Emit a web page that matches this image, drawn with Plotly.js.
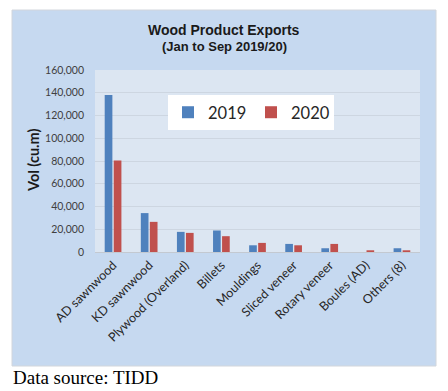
<!DOCTYPE html>
<html>
<head>
<meta charset="utf-8">
<script src="https://cdn.plot.ly/plotly-3.0.1.min.js"></script>
<style>
html,body{margin:0;padding:0;background:#fff;}
#chart{width:448px;height:391px;}
</style>
</head>
<body>
<div id="chart"></div>
<script>
const categories = ["AD sawnwood","KD sawnwood","Plywood (Overland)","Billets","Mouldings","Sliced veneer","Rotary veneer","Boules (AD)","Others (8)"];
const vol2019 = [138000, 34200, 17700, 18900, 5900, 7100, 3300, 0, 3300];
const vol2020 = [80500, 26500, 16800, 13900, 8000, 5900, 7100, 1500, 1500];
const seriesNames = ["2019", "2020"];
const yTickVals = [0,20000,40000,60000,80000,100000,120000,140000,160000];

const W = 448, H = 391;
const L = 95, R = 28, T = 70, B = 139;
const pw = W - L - R, ph = H - T - B;
const px = x => (x - L) / pw;
const py = y => (H - B - y) / ph;

const traces = [
  {type:'bar', name:seriesNames[0], x:categories, y:vol2019, marker:{color:'#4f81bd'}},
  {type:'bar', name:seriesNames[1], x:categories, y:vol2020, marker:{color:'#c0504d'}}
];

const layout = {
  width: W, height: H,
  margin: {l:L, r:R, t:T, b:B, pad:0},
  paper_bgcolor: '#ffffff',
  plot_bgcolor: '#dce6f2',
  barmode: 'group',
  bargap: 0.5,
  bargroupgap: 0.15,
  showlegend: true,
  legend: {
    orientation: 'h',
    x: px(168), y: py(95), xanchor: 'left', yanchor: 'top',
    bgcolor: '#ffffff',
    font: {family: 'Lato, Carlito, sans-serif', size: 16.5, color: '#262626'},
    itemwidth: 30,
    entrywidth: 38,
    entrywidthmode: 'pixels',
    traceorder: 'normal'
  },
  xaxis: {
    type: 'category',
    tickangle: -45,
    showgrid: false,
    showline: true, linecolor: '#c3c9d1', linewidth: 1,
    ticks: '',
    tickfont: {family: 'Lato, Carlito, sans-serif', size: 12.5, color: '#262626'},
    fixedrange: true
  },
  yaxis: {
    range: [0, 160000],
    tickvals: yTickVals,
    tickformat: ',d',
    showgrid: true, gridcolor: '#cdd6e1', gridwidth: 1,
    zeroline: false,
    showline: false,
    ticks: '',
    ticklabelstandoff: 10,
    tickfont: {family: 'Lato, Carlito, sans-serif', size: 10.5, color: '#404040'},
    fixedrange: true
  },
  shapes: [
    {type:'rect', xref:'paper', yref:'paper', layer:'below',
     x0: px(12), x1: px(436), y0: py(366), y1: py(10),
     fillcolor:'#c6d9f0', line:{color:'#d2d6dc', width:1}},
    {type:'rect', xref:'paper', yref:'paper', layer:'below',
     x0: 0, x1: 1, y0: 0, y1: 1,
     fillcolor:'#dce6f2', line:{width:0}}
  ],
  annotations: [
    {text:'<b>Wood Product Exports</b>', xref:'paper', yref:'paper', x: px(224), y: py(30),
     xanchor:'center', yanchor:'middle', showarrow:false,
     font:{family:'Liberation Sans, Arial, sans-serif', size:14, color:'#1a1a1a'}},
    {text:'<b>(Jan to Sep 2019/20)</b>', xref:'paper', yref:'paper', x: px(224), y: py(46),
     xanchor:'center', yanchor:'middle', showarrow:false,
     font:{family:'Liberation Sans, Arial, sans-serif', size:13, color:'#1a1a1a'}},
    {text:'<b>Vol (cu.m)</b>', xref:'paper', yref:'paper', x: px(33), y: 0.5,
     xanchor:'center', yanchor:'middle', textangle:-90, showarrow:false,
     font:{family:'Lato, Carlito, sans-serif', size:14.5, color:'#1a1a1a'}},
    {text:'Data source: TIDD', xref:'paper', yref:'paper', x: px(11), y: py(377),
     xanchor:'left', yanchor:'middle', showarrow:false,
     font:{family:'Liberation Serif, Times New Roman, serif', size:19, color:'#000000'}}
  ]
};

Plotly.newPlot('chart', traces, layout, {displayModeBar:false, staticPlot:true});
</script>
</body>
</html>
